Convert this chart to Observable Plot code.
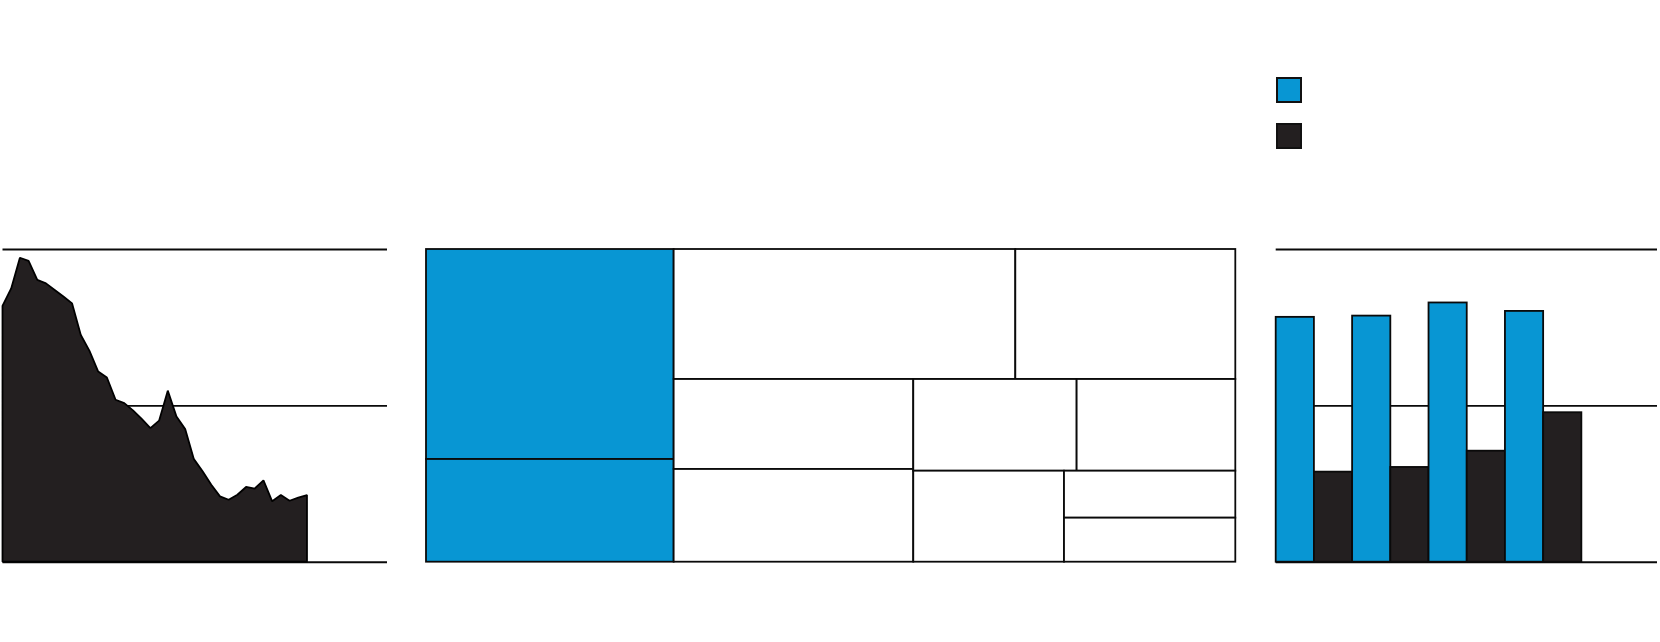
<!DOCTYPE html>
<html>
<head>
<meta charset="utf-8">
<script src="https://cdn.jsdelivr.net/npm/d3@7"></script>
<script src="https://cdn.jsdelivr.net/npm/@observablehq/plot@0.6"></script>
<style>
  html, body { margin: 0; padding: 0; background: #fff; }
  #wrap { position: relative; width: 1660px; height: 642px; background: #fff; overflow: hidden; }
  .panel { position: absolute; top: 0; }
  .swatch { position: absolute; width: 26px; height: 26px; box-sizing: border-box; border: 2px solid #111; }
</style>
</head>
<body>
<div id="wrap"></div>
<script>
// ---------- DATA ----------
// Left panel: area series (evenly spaced periods)
const areaValues = [81.8, 87.4, 97.2, 96.2, 90.1, 89.0, 86.9, 84.8, 82.6, 72.5, 67.4, 60.8,
  58.9, 51.8, 50.7, 48.4, 45.7, 42.7, 45.1, 54.7, 46.4, 42.4, 32.8, 28.9,
  24.6, 20.9, 19.8, 21.4, 23.9, 23.4, 26.0, 19.3, 21.3, 19.5, 20.5, 21.3];
const areaXDomain = [0, 44.2];
const gridTicks = [0, 50, 100];

// Middle panel: treemap (hierarchy paths and shares, %)
const treePaths = [
  "g1/A", "g1/B",
  "g2/r1/C", "g2/r1/D",
  "g2/r2/EF/E", "g2/r2/EF/F",
  "g2/r2/GHIJK/GH/G", "g2/r2/GHIJK/GH/H",
  "g2/r2/GHIJK/IJK/I", "g2/r2/GHIJK/IJK/JK/J", "g2/r2/GHIJK/IJK/JK/K"
];
const treeValues = [20.55, 10.05, 17.55, 11.30, 8.52, 8.78, 5.92, 5.75, 5.42, 3.18, 2.98];
const treeGroups = ["g1", "g2"];
const treeColors = ["#0896d3", "#ffffff"];

// Right panel: grouped bars
const barCategories = ["c1", "c2", "c3", "c4"];
const barSeries = ["s1", "s2"];
const barColors = ["#0896d3", "#231f20"];
const s1Values = [78.3, 78.7, 82.9, 80.2];
const s2Values = [28.8, 30.3, 35.5, 47.8];
const barSlots = 9.98;

// ---------- LAYOUT ----------
const H = 642, TOP = 249, BOTTOM = 80.3;
const wrap = document.getElementById("wrap");
function place(el, left) { el.classList.add("panel"); el.style.left = left + "px"; wrap.appendChild(el); }
const ink = "#0a0a0a";

// Left area chart
const areaData = areaValues.map((v, i) => ({i, v}));
const left = Plot.plot({
  width: 400, height: H,
  marginLeft: 2.5, marginRight: 13, marginTop: TOP, marginBottom: BOTTOM,
  style: {background: "transparent", overflow: "visible"},
  x: {domain: areaXDomain, axis: null},
  y: {domain: [0, 100], axis: null},
  marks: [
    Plot.ruleY(gridTicks, {stroke: ink, strokeWidth: d => d === 50 ? 1.6 : 2}),
    Plot.areaY(areaData, {x: "i", y: "v", fill: "#231f20", stroke: "#000", strokeWidth: 1.8, strokeLinejoin: "miter"})
  ]
});
place(left, 0);

// Treemap
function nest(paths, values) {
  const root = {name: "root", children: []};
  paths.forEach((p, k) => {
    const parts = p.split("/");
    let node = root;
    parts.forEach((part, j) => {
      if (j === parts.length - 1) node.children.push({name: part, value: values[k], group: parts[0]});
      else {
        let c = node.children.find(c => c.name === part);
        if (!c) { c = {name: part, children: []}; node.children.push(c); }
        node = c;
      }
    });
  });
  return root;
}
const hier = d3.hierarchy(nest(treePaths, treeValues)).sum(d => d.value || 0);
d3.treemap().tile(d3.treemapSliceDice).size([1, 1]).round(false)(hier);
const leaves = hier.leaves().map(d => ({x0: d.x0, x1: d.x1, y0: d.y0, y1: d.y1, group: d.data.group}));
const tree = Plot.plot({
  width: 850, height: H,
  marginLeft: 26, marginRight: 14.7, marginTop: TOP, marginBottom: BOTTOM,
  style: {background: "transparent", overflow: "visible"},
  x: {domain: [0, 1], axis: null},
  y: {domain: [0, 1], reverse: true, axis: null},
  color: {domain: treeGroups, range: treeColors},
  marks: [
    Plot.rect(leaves, {x1: "x0", x2: "x1", y1: "y0", y2: "y1", fill: "group", stroke: ink, strokeWidth: 1.8})
  ]
});
place(tree, 400);

// Bar chart
const barData = [];
barCategories.forEach((c, ci) => {
  barData.push({slot: ci * 2, series: barSeries[0], v: s1Values[ci]});
  barData.push({slot: ci * 2 + 1, series: barSeries[1], v: s2Values[ci]});
});
const bars = Plot.plot({
  width: 410, height: H,
  marginLeft: 25.7, marginRight: 3, marginTop: TOP, marginBottom: BOTTOM,
  style: {background: "transparent", overflow: "visible"},
  x: {domain: [0, barSlots], axis: null},
  y: {domain: [0, 100], axis: null},
  color: {domain: barSeries, range: barColors},
  marks: [
    Plot.ruleY(gridTicks, {stroke: ink, strokeWidth: d => d === 50 ? 1.6 : 2}),
    Plot.rectY(barData, {x1: "slot", x2: d => d.slot + 1, y: "v", fill: "series", stroke: ink, strokeWidth: 1.8})
  ]
});
place(bars, 1250);

// Legend swatches
barSeries.forEach((s, k) => {
  const sw = document.createElement("div");
  sw.className = "swatch";
  sw.style.left = "1276px";
  sw.style.top = (77 + k * 46) + "px";
  sw.style.background = barColors[k];
  wrap.appendChild(sw);
});
</script>
</body>
</html>
